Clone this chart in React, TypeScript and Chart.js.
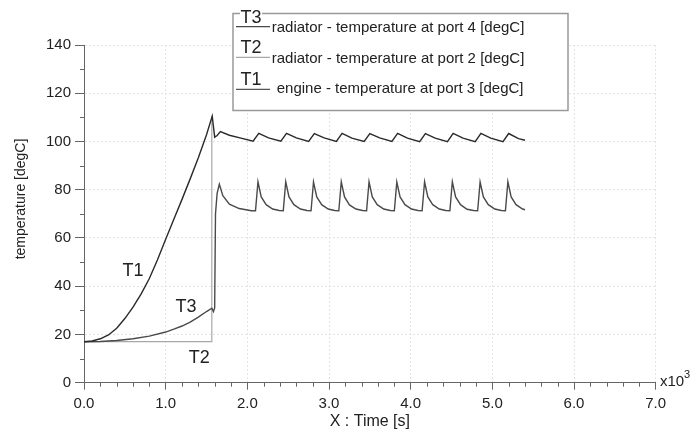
import React, { useEffect, useRef } from "react";
import { Chart, registerables } from "chart.js";

Chart.register(...registerables);

const FONT = "'Liberation Sans', Arial, sans-serif";

// Time in units of 10^3 s, temperatures in degC
const T1_TIME = [
  0.0, 0.1, 0.2, 0.3, 0.4, 0.5, 0.6, 0.7, 0.8, 0.9, 1.0, 1.1, 1.2, 1.3, 1.4, 1.5, 1.57,
  1.6, 1.63, 1.67, 1.78, 1.91, 2.07,
  2.14, 2.26, 2.41,
  2.48, 2.6, 2.75,
  2.82, 2.94, 3.09,
  3.16, 3.28, 3.43,
  3.5, 3.62, 3.77,
  3.84, 3.96, 4.11,
  4.18, 4.3, 4.45,
  4.52, 4.64, 4.79,
  4.86, 4.98, 5.13,
  5.2, 5.32, 5.4,
];
const T1_TEMP = [
  17.0, 17.3, 18.2, 19.8, 22.6, 26.6, 31.3, 36.8, 43.2, 51.0, 59.5, 67.8, 76.0, 84.5, 93.3, 102.8, 110.5,
  101.8, 102.5, 104.1, 102.6, 101.5, 100.1,
  103.4, 101.5, 100.1,
  103.4, 101.5, 100.0,
  103.3, 101.5, 100.0,
  103.4, 101.4, 100.0,
  103.3, 101.5, 100.0,
  103.4, 101.4, 99.9,
  103.3, 101.4, 99.9,
  103.4, 101.4, 99.9,
  103.4, 101.4, 99.9,
  103.3, 101.2, 100.5,
];

const T3_TIME = [
  0.0, 0.2, 0.4, 0.6, 0.8, 1.0, 1.1, 1.2, 1.3, 1.4, 1.5, 1.565, 1.585,
  1.6, 1.61, 1.63, 1.657, 1.7, 1.78, 1.9, 2.05,
  2.1, 2.13, 2.17, 2.23, 2.31, 2.39,
  2.44, 2.47, 2.51, 2.57, 2.65, 2.73,
  2.78, 2.81, 2.85, 2.91, 2.99, 3.07,
  3.12, 3.15, 3.19, 3.25, 3.33, 3.41,
  3.46, 3.49, 3.53, 3.59, 3.67, 3.75,
  3.8, 3.83, 3.87, 3.93, 4.01, 4.09,
  4.14, 4.17, 4.21, 4.27, 4.35, 4.43,
  4.48, 4.51, 4.55, 4.61, 4.69, 4.77,
  4.82, 4.85, 4.89, 4.95, 5.03, 5.11,
  5.16, 5.19, 5.23, 5.29, 5.37, 5.4,
];
const T3_TEMP = [
  17.0, 17.1, 17.5, 18.2, 19.3, 21.0, 22.2, 23.5, 25.1, 27.2, 29.5, 30.9, 29.5,
  31.0, 70.0, 78.5, 82.3, 77.5, 74.0, 72.2, 71.3,
  71.3, 83.3, 77.0, 73.8, 72.0, 71.4,
  71.3, 83.3, 77.0, 73.8, 72.0, 71.4,
  71.3, 83.2, 77.0, 73.8, 72.0, 71.4,
  71.3, 83.3, 77.0, 73.7, 72.0, 71.4,
  71.3, 83.3, 77.0, 73.8, 72.0, 71.4,
  71.3, 83.2, 77.0, 73.8, 72.0, 71.4,
  71.3, 83.3, 77.0, 73.8, 72.0, 71.4,
  71.3, 83.3, 77.0, 73.8, 71.9, 71.4,
  71.3, 83.2, 77.0, 73.8, 72.0, 71.4,
  71.3, 83.3, 77.0, 73.8, 72.0, 71.7,
];

const T2_TIME = [0.0, 1.563, 1.565];
const T2_TEMP = [17.0, 17.0, 110.5];

const X_TICKS = [0, 1, 2, 3, 4, 5, 6, 7];
const Y_TICKS = [0, 20, 40, 60, 80, 100, 120, 140];

const SERIES_NAMES = ["T1", "T3", "T2"];
const SERIES_COLORS = ["#2a2a2a", "#4a4a4a", "#a8a8a8"];

const LEGEND_KEYS = ["T3", "T2", "T1"];
const LEGEND_TEXTS = [
  "radiator - temperature at port 4 [degC]",
  "radiator - temperature at port 2 [degC]",
  "engine - temperature at port 3 [degC]",
];
const LEGEND_COLORS = ["#4a4a4a", "#a8a8a8", "#555555"];

// in-plot curve labels (data coordinates)
const CURVE_LABELS = ["T1", "T3", "T2"];
const CURVE_LABEL_X = [0.6, 1.25, 1.41];
const CURVE_LABEL_Y = [46.4, 31.3, 10.1];

function pts(xs: number[], ys: number[]) {
  return xs.map((x, i) => ({ x, y: ys[i] }));
}

const overlayPlugin = {
  id: "overlay",
  afterDraw(chart: any) {
    const ctx: CanvasRenderingContext2D = chart.ctx;
    const xs = chart.scales.x;
    const ys = chart.scales.y;
    const area = chart.chartArea;
    ctx.save();

    // minor ticks
    ctx.strokeStyle = "#666";
    ctx.lineWidth = 1;
    for (let i = 0; i < 7; i++) {
      for (let k = 1; k < 5; k++) {
        const px = Math.round(xs.getPixelForValue(i + k * 0.2)) + 0.5;
        ctx.beginPath();
        ctx.moveTo(px, area.bottom);
        ctx.lineTo(px, area.bottom + 4);
        ctx.stroke();
      }
    }
    for (let v = 10; v < 140; v += 20) {
      const py = Math.round(ys.getPixelForValue(v)) + 0.5;
      ctx.beginPath();
      ctx.moveTo(area.left, py);
      ctx.lineTo(area.left - 4, py);
      ctx.stroke();
    }

    // x10^3
    ctx.fillStyle = "#222";
    ctx.font = `15px ${FONT}`;
    ctx.textAlign = "left";
    ctx.textBaseline = "alphabetic";
    ctx.fillText("x10", 660, 386);
    ctx.font = `11px ${FONT}`;
    ctx.fillText("3", 684, 378);

    // y title
    ctx.save();
    ctx.translate(21, 199);
    ctx.rotate(-Math.PI / 2);
    ctx.font = `14px ${FONT}`;
    ctx.textAlign = "center";
    ctx.textBaseline = "middle";
    ctx.fillText("temperature [degC]", 0, 0);
    ctx.restore();

    // curve labels
    ctx.font = `18px ${FONT}`;
    ctx.textAlign = "center";
    ctx.textBaseline = "middle";
    ctx.fillStyle = "#222";
    CURVE_LABELS.forEach((t, i) => {
      ctx.fillText(t, xs.getPixelForValue(CURVE_LABEL_X[i]), ys.getPixelForValue(CURVE_LABEL_Y[i]));
    });

    // legend box
    const bx = 233, by = 13.5, bw = 335, bh = 97;
    ctx.fillStyle = "#fff";
    ctx.fillRect(bx, by, bw, bh);
    ctx.strokeStyle = "#999";
    ctx.lineWidth = 1.5;
    ctx.strokeRect(bx, by, bw, bh);
    // gap behind T3 key
    ctx.fillStyle = "#fff";
    ctx.fillRect(240, 4, 22, 16);

    const keyBase = [22.7, 53.3, 85];
    const lineY = [26.7, 57.3, 89.3];
    const textBase = [31.7, 62.7, 93.3];
    const textX = [271.7, 271.7, 276.7];
    LEGEND_KEYS.forEach((k, i) => {
      ctx.fillStyle = "#222";
      ctx.font = `18px ${FONT}`;
      ctx.textAlign = "center";
      ctx.textBaseline = "alphabetic";
      ctx.fillText(k, 251, keyBase[i]);
      ctx.strokeStyle = LEGEND_COLORS[i];
      ctx.lineWidth = 1.3;
      ctx.beginPath();
      ctx.moveTo(236, lineY[i]);
      ctx.lineTo(270, lineY[i]);
      ctx.stroke();
      ctx.font = `15px ${FONT}`;
      ctx.textAlign = "left";
      ctx.fillText(LEGEND_TEXTS[i], textX[i], textBase[i]);
    });

    ctx.restore();
  },
};

export default function App() {
  const ref = useRef<HTMLCanvasElement | null>(null);
  useEffect(() => {
    if (!ref.current) return;
    Chart.defaults.font.family = FONT;
    const chart = new Chart(ref.current, {
      type: "line",
      data: {
        datasets: [
          { label: SERIES_NAMES[0], data: pts(T1_TIME, T1_TEMP), borderColor: SERIES_COLORS[0], borderWidth: 1.4 },
          { label: SERIES_NAMES[1], data: pts(T3_TIME, T3_TEMP), borderColor: SERIES_COLORS[1], borderWidth: 1.4 },
          { label: SERIES_NAMES[2], data: pts(T2_TIME, T2_TEMP), borderColor: SERIES_COLORS[2], borderWidth: 1.2 },
        ],
      },
      options: {
        animation: false,
        responsive: false,
        devicePixelRatio: 1,
        elements: { point: { radius: 0 }, line: { tension: 0 } },
        layout: { padding: { left: 0, top: 45, right: 37.3, bottom: 0 } },
        plugins: { legend: { display: false }, tooltip: { enabled: false } },
        scales: {
          x: {
            type: "linear",
            min: 0,
            max: 7,
            afterBuildTicks: (s: any) => { s.ticks = X_TICKS.map((v) => ({ value: v })); },
            afterFit: (s: any) => { s.height = 50.3; },
            ticks: {
              font: { size: 15 },
              color: "#222",
              padding: 5,
              maxRotation: 0,
              callback: (v: any) => Number(v).toFixed(1),
            },
            grid: {
              color: "#e4e4e4",
              tickColor: "#666",
              tickLength: 7,
              tickBorderDash: [],
            },
            border: { display: true, color: "#666", width: 1, dash: [2, 2] },
            title: {
              display: true,
              text: "X : Time [s]",
              font: { size: 16 },
              color: "#222",
              padding: { top: 0, bottom: 2 },
            },
          },
          y: {
            type: "linear",
            min: 0,
            max: 140,
            afterBuildTicks: (s: any) => { s.ticks = Y_TICKS.map((v) => ({ value: v })); },
            afterFit: (s: any) => { s.width = 84; },
            ticks: { font: { size: 15 }, color: "#222", padding: 4 },
            grid: {
              color: "#e4e4e4",
              tickColor: "#666",
              tickLength: 9,
              tickBorderDash: [],
            },
            border: { display: true, color: "#666", width: 1, dash: [2, 2] },
          },
        },
      },
      plugins: [overlayPlugin],
    } as any);
    return () => chart.destroy();
  }, []);
  return (
    <div style={{ position: "fixed", left: 0, top: 0, width: 693, height: 433, background: "#fff" }}>
      <canvas ref={ref} width={693} height={433} />
    </div>
  );
}
